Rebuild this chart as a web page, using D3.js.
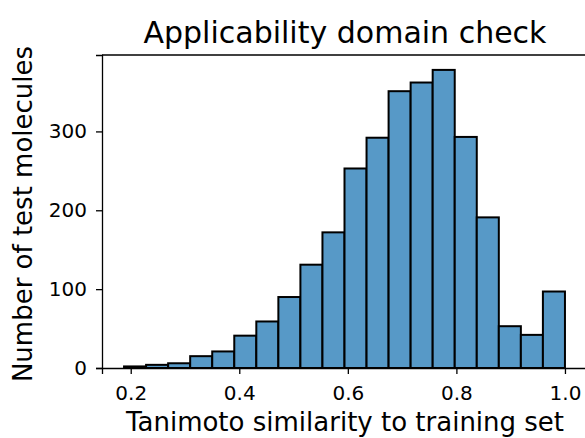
<!doctype html>
<html lang="en">
  <head>
    <meta charset="utf-8">
    <title>Applicability domain check</title>
    <style>
      body { margin: 0; background: #fff; }
      svg text { font-family: "DejaVu Sans", sans-serif; fill: #000; }
    </style>
  </head>
  <body>
    <div id="chart"></div>

    <script src="https://cdn.jsdelivr.net/npm/d3@7"></script>
    <script>
      // histogram data
      const binStart = 0.1877;
      const binEnd = 1.0;
      const counts = [2, 4, 6, 15, 21, 41, 59, 90, 131, 172, 253, 292, 351, 362, 378, 293, 191, 53, 42, 97];
      const xTicks = [0.2, 0.4, 0.6, 0.8, 1.0];
      const yTicks = [0, 100, 200, 300];

      const width = 585, height = 438;
      const plotL = 102, plotR = 587, plotT = 55, plotB = 368;

      const svg = d3.select("#chart").append("svg")
        .attr("width", width)
        .attr("height", height);

      const binW = (binEnd - binStart) / counts.length;
      const bins = counts.map((c, i) => ({ x0: binStart + i * binW, x1: binStart + (i + 1) * binW, n: c }));

      // matplotlib-like 5% margins on x, 5% headroom on y
      const pad = 0.05 * (binEnd - binStart);
      const x = d3.scaleLinear().domain([binStart - pad, binEnd + pad]).range([plotL, plotR]);
      const y = d3.scaleLinear().domain([0, d3.max(counts) * 1.05]).range([plotB, plotT]);

      // bars
      svg.append("g").selectAll("rect")
        .data(bins)
        .enter().append("rect")
        .attr("x", d => x(d.x0))
        .attr("y", d => y(d.n))
        .attr("width", d => x(d.x1) - x(d.x0))
        .attr("height", d => y(0) - y(d.n))
        .attr("fill", "#5799c7")
        .attr("stroke", "#000")
        .attr("stroke-width", 2);

      // axes
      const xAxis = svg.append("g")
        .attr("transform", "translate(0," + plotB + ")")
        .call(d3.axisBottom(x).tickValues(xTicks).tickFormat(d3.format(".1f")).tickSizeOuter(0).tickSize(6).tickPadding(12));
      const yAxis = svg.append("g")
        .attr("transform", "translate(" + plotL + ",0)")
        .call(d3.axisLeft(y).tickValues(yTicks).tickSizeOuter(0).tickSize(6).tickPadding(9));

      [xAxis, yAxis].forEach(g => {
        g.selectAll("text").attr("font-size", 20).attr("fill", "#000");
        g.selectAll("line").attr("stroke", "#000").attr("stroke-width", 1.3);
        g.select(".domain").attr("stroke", "#000").attr("stroke-width", 1.3);
      });

      // top spine
      svg.append("line")
        .attr("x1", plotL).attr("x2", plotR)
        .attr("y1", plotT).attr("y2", plotT)
        .attr("stroke", "#000").attr("stroke-width", 1.3);

      // titles
      svg.append("text")
        .attr("x", 345)
        .attr("y", 43)
        .attr("text-anchor", "middle")
        .attr("font-size", 30)
        .text("Applicability domain check");

      svg.append("text")
        .attr("x", 345)
        .attr("y", 431)
        .attr("text-anchor", "middle")
        .attr("font-size", 26)
        .text("Tanimoto similarity to training set");

      svg.append("text")
        .attr("transform", "translate(32,214) rotate(-90)")
        .attr("text-anchor", "middle")
        .attr("font-size", 26)
        .text("Number of test molecules");
    </script>
  </body>
</html>
